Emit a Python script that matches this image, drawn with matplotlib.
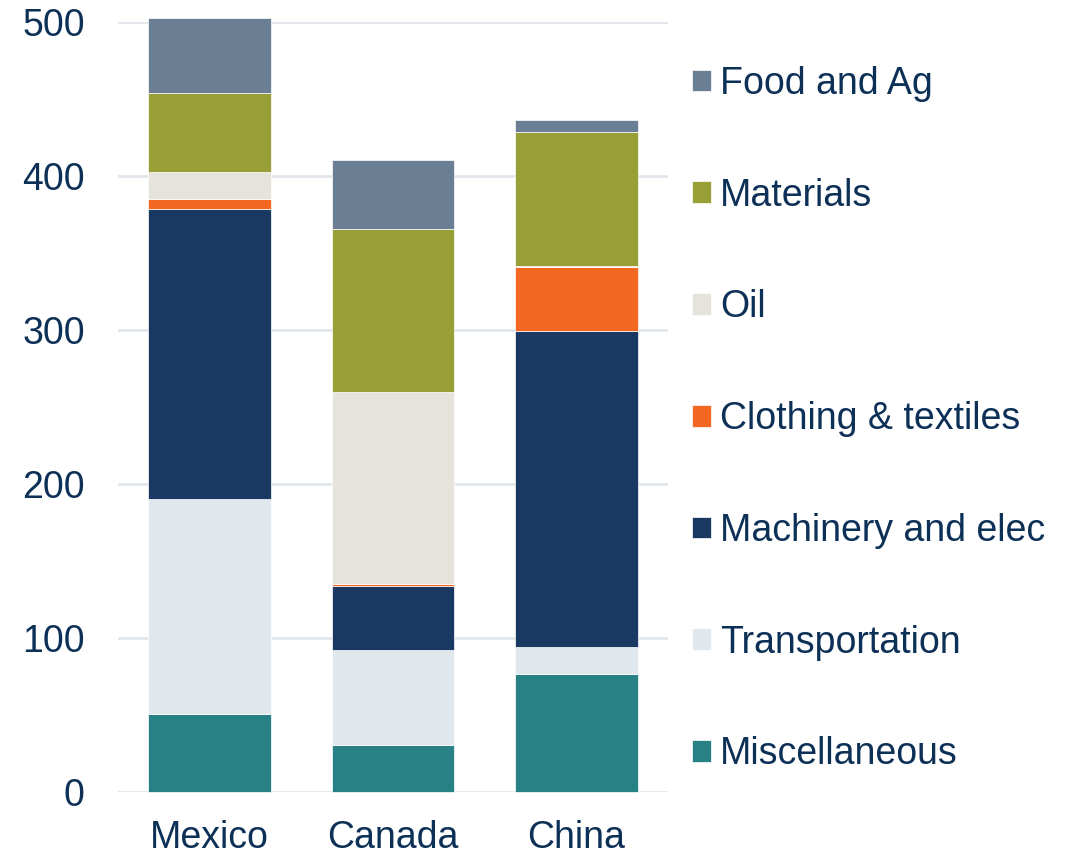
import matplotlib.pyplot as plt
import numpy as np

# ---------- data ----------
countries = ['Mexico', 'Canada', 'China']
categories = ['Miscellaneous', 'Transportation', 'Machinery and elec',
              'Clothing & textiles', 'Oil', 'Materials', 'Food and Ag']
misc = [50.6, 30.7, 76.6]
transport = [139.4, 61.7, 17.9]
machinery = [189.0, 41.1, 205.2]
clothing = [6.3, 1.5, 41.3]
oil = [17.5, 124.5, 0.5]
materials = [51.2, 106.5, 87.3]
food = [49.0, 44.4, 7.7]
yticks = [0, 100, 200, 300, 400, 500]

series = [misc, transport, machinery, clothing, oil, materials, food]
colors = ['#288285', '#E0E8EE', '#193862', '#F26722',
          '#E6E3DD', '#989F37', '#6A7F93']
txt = '#0D3057'

plt.rcParams['font.family'] = ['Liberation Sans', 'DejaVu Sans']

# ---------- plot ----------
fig = plt.figure(figsize=(10.74, 8.55), dpi=100)
ax = fig.add_axes([0.1099, 0.0737, 0.5121, 0.9003])

x = np.arange(len(countries))
bottom = np.zeros(len(countries))
handles = []
for vals, col, lab in zip(series, colors, categories):
    b = ax.bar(x, vals, width=0.668, bottom=bottom, color=col,
               edgecolor='white', linewidth=0.5, label=lab,
               zorder=3, clip_on=False)
    handles.append(b)
    bottom += np.array(vals)

ax.set_xlim(-0.5, 2.5)
ax.set_ylim(0, 500)
ax.set_yticks(yticks)
ax.set_xticks(x)
ax.set_xticklabels(countries)
ax.yaxis.grid(True, color='#E1E7ED', linewidth=2, zorder=0)
ax.set_axisbelow(True)
for s in ax.spines.values():
    s.set_visible(False)
ax.tick_params(axis='y', length=0, pad=24, labelsize=27, labelcolor=txt)
ax.tick_params(axis='x', length=0, pad=20, labelsize=27, labelcolor=txt)

leg = ax.legend(handles[::-1], categories[::-1], loc='upper left',
                bbox_to_anchor=(0.644, 0.923), bbox_transform=fig.transFigure,
                frameon=False, fontsize=27, handlelength=0.51,
                handleheight=0.51, handletextpad=0.24, labelspacing=2.02,
                borderpad=0, borderaxespad=0)
for t in leg.get_texts():
    t.set_color(txt)

fig.savefig('out.png', dpi=100)
